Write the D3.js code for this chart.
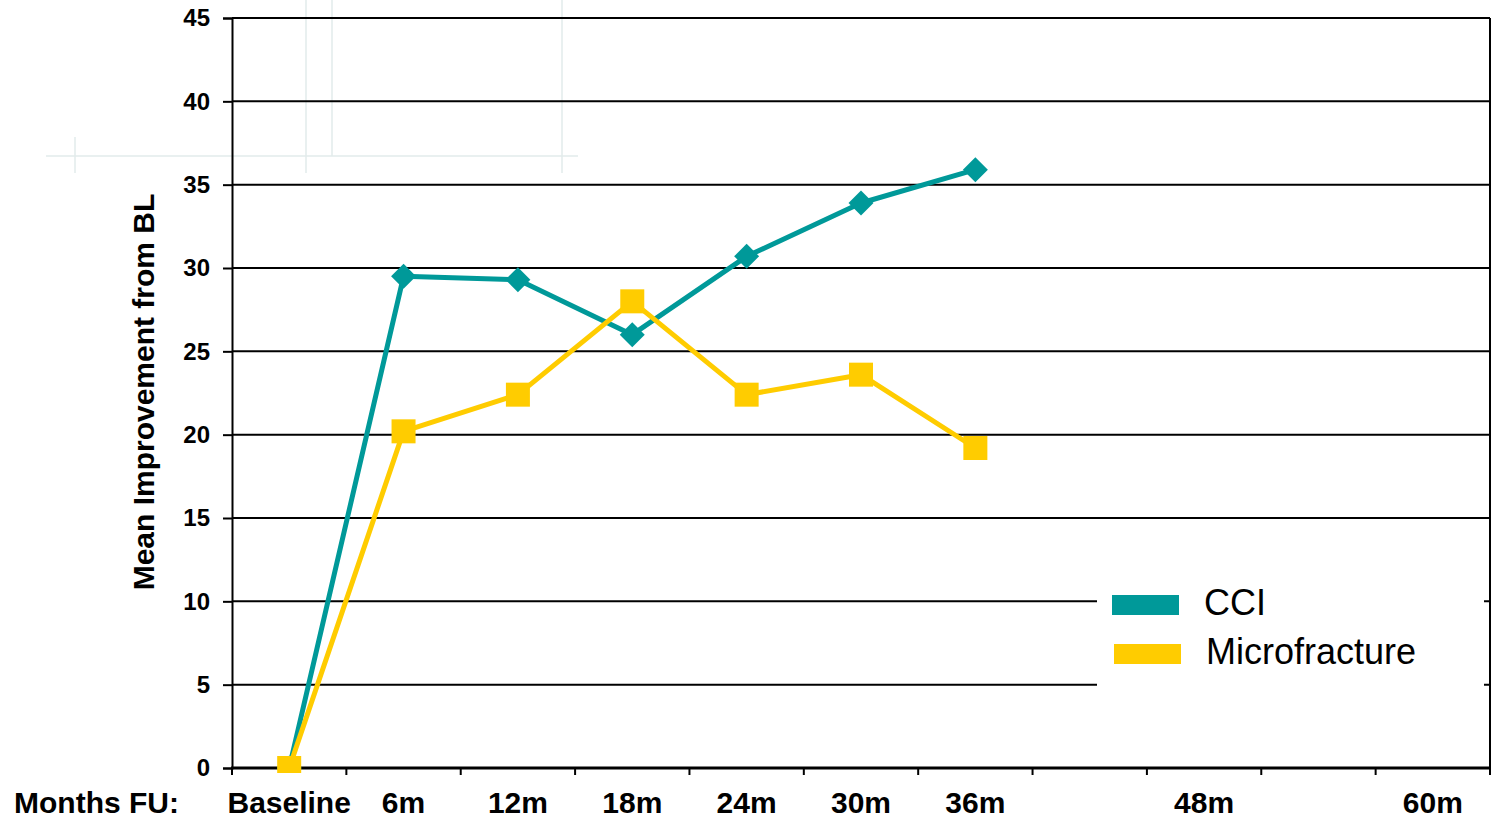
<!DOCTYPE html>
<html>
<head>
<meta charset="utf-8">
<script src="https://cdn.jsdelivr.net/npm/d3@7/dist/d3.min.js"></script>
<style>
  html, body { margin: 0; padding: 0; background: #ffffff; }
  svg { display: block; font-family: "Liberation Sans", Arial, sans-serif; }
</style>
</head>
<body>
<svg id="chart" width="1512" height="819"></svg>
<script>
// Follow-up time points (one slot per 6 months, baseline to 60 months)
const categories = ["Baseline", "6m", "12m", "18m", "24m", "30m", "36m", "42m", "48m", "54m", "60m"];
// Labels printed under the axis (42m and 54m slots are left blank)
const tickLabels = ["Baseline", "6m", "12m", "18m", "24m", "30m", "36m", "", "48m", "", "60m"];
// Mean improvement from baseline at each measured time point
const measuredPoints = ["Baseline", "6m", "12m", "18m", "24m", "30m", "36m"];
const cciValues = [0, 29.5, 29.3, 26.0, 30.7, 33.9, 35.9];
const microfractureValues = [0, 20.2, 22.4, 28.0, 22.4, 23.6, 19.2];
const yTicks = [0, 5, 10, 15, 20, 25, 30, 35, 40, 45];
const seriesNames = ["CCI", "Microfracture"];

const TEAL = "#009999";
const GOLD = "#ffcc00";

const svg = d3.select("#chart");
const plotLeft = 232, plotRight = 1490, plotTop = 18, plotBottom = 768;

const x = d3.scaleBand().domain(categories).range([plotLeft, plotRight]).padding(0);
const y = d3.scaleLinear().domain([0, 45]).range([plotBottom, plotTop]);
const cx = c => x(c) + x.bandwidth() / 2;

// faint background decoration in the upper left
const deco = svg.append("g").attr("stroke", "#e2ebeb").attr("stroke-width", 1.5).attr("fill", "none");
deco.append("line").attr("x1", 46).attr("x2", 578).attr("y1", 156).attr("y2", 156);
deco.append("line").attr("x1", 75).attr("x2", 75).attr("y1", 137).attr("y2", 173);
deco.append("line").attr("x1", 306).attr("x2", 306).attr("y1", 0).attr("y2", 173);
deco.append("line").attr("x1", 332).attr("x2", 332).attr("y1", 0).attr("y2", 156);
deco.append("line").attr("x1", 562).attr("x2", 562).attr("y1", 0).attr("y2", 173);

// horizontal gridlines
svg.append("g")
  .selectAll("line")
  .data(yTicks.filter(v => v > 0))
  .join("line")
  .attr("x1", plotLeft).attr("x2", plotRight)
  .attr("y1", d => y(d)).attr("y2", d => y(d))
  .attr("stroke", "#000").attr("stroke-width", 2);

// y axis with ticks and labels
const yAxis = svg.append("g")
  .attr("transform", `translate(${plotLeft},0)`)
  .call(d3.axisLeft(y).tickValues(yTicks).tickSize(9).tickPadding(13));
yAxis.select(".domain").attr("stroke", "#000").attr("stroke-width", 2);
yAxis.selectAll(".tick line").attr("stroke", "#000").attr("stroke-width", 2);
yAxis.selectAll(".tick text")
  .attr("fill", "#000")
  .style("font-size", "24px")
  .style("font-weight", "bold")
  .style("font-family", "'Liberation Sans', Arial, sans-serif");

// right border
svg.append("line")
  .attr("x1", plotRight).attr("x2", plotRight).attr("y1", plotTop).attr("y2", plotBottom)
  .attr("stroke", "#000").attr("stroke-width", 2);

// legend panel (sits over the gridlines)
const legend = svg.append("g");
legend.append("rect")
  .attr("x", 1097).attr("y", 545).attr("width", 387).attr("height", 170)
  .attr("fill", "#ffffff");

// x axis line with ticks at slot boundaries
const xAxisG = svg.append("g");
const boundaries = categories.map(c => x(c)).concat([x.range()[1]]);
xAxisG.selectAll("line.tick")
  .data(boundaries)
  .join("line")
  .attr("class", "tick")
  .attr("x1", d => d).attr("x2", d => d)
  .attr("y1", plotBottom).attr("y2", plotBottom + 7)
  .attr("stroke", "#000").attr("stroke-width", 2);
xAxisG.append("line")
  .attr("x1", plotLeft - 1).attr("x2", plotRight + 1)
  .attr("y1", plotBottom).attr("y2", plotBottom)
  .attr("stroke", "#000").attr("stroke-width", 3);

// x tick labels at slot centres
const labelAxis = svg.append("g")
  .attr("transform", `translate(0,${plotBottom})`)
  .call(d3.axisBottom(x).tickSize(0).tickPadding(24)
    .tickFormat((d, i) => tickLabels[i]));
labelAxis.select(".domain").remove();
labelAxis.selectAll(".tick text")
  .attr("fill", "#000")
  .style("font-size", "30px")
  .style("font-weight", "bold")
  .style("font-family", "'Liberation Sans', Arial, sans-serif");

// axis titles
svg.append("text")
  .attr("x", 14).attr("y", 813)
  .style("font-size", "30px").style("font-weight", "bold")
  .text("Months FU:");
svg.append("text")
  .attr("transform", "translate(143,392) rotate(-90)")
  .attr("text-anchor", "middle")
  .attr("dominant-baseline", "central")
  .style("font-size", "30px").style("font-weight", "bold")
  .text("Mean Improvement from BL");

// clip so markers do not spill far below the axis
svg.append("defs").append("clipPath").attr("id", "plotClip")
  .append("rect").attr("x", 0).attr("y", 0).attr("width", 1512).attr("height", plotBottom + 5);

const plot = svg.append("g").attr("clip-path", "url(#plotClip)");
const line = d3.line().x(d => cx(d.cat)).y(d => y(d.v));

const cciData = measuredPoints.map((c, i) => ({ cat: c, v: cciValues[i] }));
const microData = measuredPoints.map((c, i) => ({ cat: c, v: microfractureValues[i] }));

// CCI series: line with diamond markers
plot.append("path").datum(cciData)
  .attr("d", line).attr("fill", "none")
  .attr("stroke", TEAL).attr("stroke-width", 5).attr("stroke-linejoin", "round");
plot.append("g").selectAll("path")
  .data(cciData)
  .join("path")
  .attr("d", d3.symbol(d3.symbolSquare, 312))
  .attr("transform", d => `translate(${cx(d.cat)},${y(d.v)}) rotate(45)`)
  .attr("fill", TEAL);

// Microfracture series: line with square markers
plot.append("path").datum(microData)
  .attr("d", line).attr("fill", "none")
  .attr("stroke", GOLD).attr("stroke-width", 5).attr("stroke-linejoin", "round");
plot.append("g").selectAll("rect")
  .data(microData)
  .join("rect")
  .attr("x", d => cx(d.cat) - 12).attr("y", d => y(d.v) - 12)
  .attr("width", 24).attr("height", 24)
  .attr("fill", GOLD);

// legend entries
const legendColors = [TEAL, GOLD];
const legendRowY = [605, 654];
seriesNames.forEach((name, i) => {
  legend.append("rect")
    .attr("x", 1112 + i * 2).attr("y", legendRowY[i] - 10)
    .attr("width", 67).attr("height", 20)
    .attr("fill", legendColors[i]);
  legend.append("text")
    .attr("x", 1204 + i * 2).attr("y", legendRowY[i] + 10)
    .style("font-size", "36px")
    .attr("fill", "#000")
    .text(name);
});
</script>
</body>
</html>
